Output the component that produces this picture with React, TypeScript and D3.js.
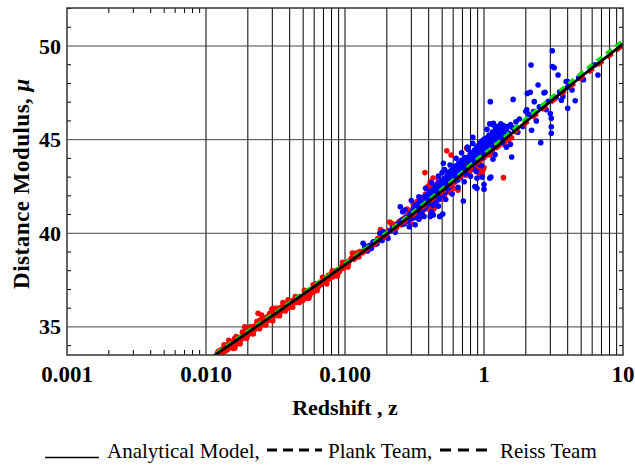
import React from "react";
import * as d3 from "d3";

// ---------- data ----------
const curveZ = [0.01, 0.012, 0.015, 0.02, 0.025, 0.03, 0.04, 0.05, 0.06, 0.07, 0.08, 0.1, 0.15, 0.2, 0.25, 0.3, 0.4, 0.5, 0.6, 0.7, 0.8, 0.9, 1.0, 1.2, 1.5, 2, 3, 4, 5, 7, 10];
const modelMu = [33.18, 33.57, 34.06, 34.70, 35.19, 35.59, 36.24, 36.74, 37.15, 37.50, 37.81, 38.31, 39.27, 39.96, 40.51, 40.96, 41.69, 42.26, 42.74, 43.17, 43.54, 43.83, 44.10, 44.55, 45.18, 45.95, 47.03, 47.78, 48.36, 49.21, 50.11];
const planckMu = [33.26, 33.65, 34.14, 34.78, 35.27, 35.67, 36.32, 36.82, 37.23, 37.58, 37.89, 38.40, 39.36, 40.06, 40.61, 41.07, 41.81, 42.39, 42.87, 43.31, 43.68, 44.00, 44.26, 44.73, 45.35, 46.13, 47.22, 47.97, 48.56, 49.41, 50.31];
const riessMu = [33.09, 33.48, 33.97, 34.61, 35.10, 35.50, 36.15, 36.65, 37.06, 37.41, 37.72, 38.22, 39.18, 39.87, 40.41, 40.86, 41.59, 42.16, 42.63, 43.06, 43.42, 43.71, 43.98, 44.43, 45.06, 45.83, 46.91, 47.66, 48.24, 49.09, 49.99];

const redPoints: [number, number][] = [
  [0.0121, 33.62], [0.0125, 33.55], [0.0128, 33.78], [0.0131, 33.6], [0.0134, 33.85], [0.0138, 33.72], [0.014, 34.02], [0.0143, 33.8],
  [0.0145, 34.03], [0.0148, 33.91], [0.015, 34.18], [0.0153, 33.95], [0.0155, 34.12], [0.0158, 34.25], [0.0161, 34.39], [0.0161, 33.86],
  [0.0164, 34.05], [0.0166, 34.21], [0.017, 34.33], [0.0172, 34.18], [0.0175, 34.45], [0.0178, 34.3], [0.0182, 34.5], [0.0185, 34.62],
  [0.0188, 34.42], [0.019, 35.01], [0.0192, 34.93], [0.0195, 34.7], [0.02, 34.55], [0.0203, 34.8], [0.0207, 34.68], [0.021, 34.92],
  [0.0215, 34.78], [0.022, 35.02], [0.0224, 34.85], [0.023, 35.1], [0.0234, 34.98], [0.0237, 35.73], [0.024, 35.22], [0.0245, 35.37],
  [0.0251, 35.64], [0.0255, 35.12], [0.0258, 35.19], [0.0262, 35.45], [0.0268, 35.3], [0.0273, 35.37], [0.0278, 35.55], [0.0285, 35.42],
  [0.029, 35.68], [0.0297, 35.94], [0.03, 35.5], [0.0304, 36.0], [0.031, 35.72], [0.0318, 35.6], [0.0325, 35.85], [0.0333, 35.78],
  [0.034, 36.02], [0.035, 35.9], [0.036, 36.17], [0.0368, 36.05], [0.0375, 35.98], [0.0385, 36.25], [0.0395, 36.12], [0.0405, 36.35],
  [0.0415, 36.2], [0.0425, 36.42], [0.044, 36.3], [0.0455, 36.55], [0.0474, 36.62], [0.0485, 36.4], [0.05, 36.44], [0.0515, 36.8],
  [0.053, 36.71], [0.054, 36.53], [0.056, 36.71], [0.058, 36.95], [0.06, 37.02], [0.062, 37.3], [0.064, 37.12], [0.066, 37.38],
  [0.068, 37.35], [0.07, 37.62], [0.0715, 37.42], [0.0735, 37.55], [0.076, 37.75], [0.078, 37.6], [0.08, 37.86], [0.082, 37.68],
  [0.0845, 37.95], [0.087, 38.02], [0.09, 37.9], [0.093, 38.18], [0.095, 38.22], [0.097, 38.13], [0.1, 38.35], [0.103, 38.45],
  [0.106, 38.38], [0.111, 38.66], [0.114, 38.84], [0.118, 38.7], [0.123, 38.82], [0.128, 39.02], [0.133, 38.95], [0.14, 39.1],
  [0.145, 39.22], [0.15, 39.15], [0.158, 39.48], [0.165, 39.4], [0.172, 39.72], [0.18, 40.2], [0.183, 40.08], [0.186, 39.75],
  [0.195, 39.82], [0.205, 40.15], [0.21, 40.6], [0.215, 40.53], [0.22, 40.35], [0.225, 40.48], [0.235, 40.3], [0.245, 40.62],
  [0.255, 40.45], [0.265, 40.8], [0.27, 40.55], [0.28, 40.95], [0.285, 40.72], [0.29, 41.05], [0.3, 40.88], [0.305, 41.2],
  [0.31, 40.95], [0.32, 41.3], [0.325, 41.05], [0.33, 41.45], [0.34, 41.15], [0.345, 41.6], [0.35, 41.38], [0.36, 41.7],
  [0.365, 41.25], [0.37, 41.85], [0.376, 43.24], [0.38, 41.55], [0.385, 42.05], [0.39, 41.7], [0.4, 42.53], [0.405, 41.9],
  [0.41, 42.2], [0.42, 41.4], [0.43, 41.24], [0.425, 42.0], [0.435, 42.35], [0.44, 41.85], [0.45, 42.1], [0.455, 42.6],
  [0.46, 42.25], [0.47, 41.95], [0.475, 42.75], [0.48, 42.4], [0.49, 42.15], [0.5, 42.55], [0.51, 42.85], [0.52, 42.3],
  [0.53, 42.65], [0.54, 44.41], [0.545, 42.95], [0.55, 42.5], [0.56, 42.8], [0.58, 44.18], [0.57, 43.1], [0.59, 42.65],
  [0.6, 42.95], [0.61, 43.25], [0.62, 42.75], [0.63, 43.05], [0.65, 42.3], [0.655, 43.35], [0.67, 43.0], [0.69, 43.45],
  [0.7, 43.2], [0.72, 43.6], [0.74, 43.1], [0.75, 44.54], [0.76, 43.5], [0.78, 43.8], [0.8, 43.35], [0.82, 43.7],
  [0.84, 44.0], [0.86, 43.55], [0.88, 43.95], [0.9, 44.2], [0.93, 43.85], [0.96, 44.3], [1.0, 44.05], [1.05, 44.45],
  [1.1, 44.2], [1.38, 42.97], [0.9, 43.45], [0.95, 43.25], [0.98, 43.35], [0.93, 43.15], [1.4, 44.75], [1.5, 44.95],
  [1.45, 45.0], [1.58, 45.1],
  [0.0123, 33.7], [0.0127, 33.62], [0.0133, 33.75], [0.0136, 33.92], [0.0142, 33.88], [0.0147, 34.1], [0.0152, 34.02], [0.0157, 34.08],
  [0.016, 34.2], [0.0168, 34.35], [0.0174, 34.28], [0.018, 34.4], [0.0187, 34.55], [0.0198, 34.62], [0.0205, 34.72], [0.0212, 34.82],
  [0.0218, 34.9], [0.0227, 34.95], [0.0238, 35.05], [0.0248, 35.25], [0.0265, 35.28], [0.0275, 35.45], [0.0282, 35.35], [0.0293, 35.58],
  [0.0315, 35.8], [0.033, 35.65], [0.0345, 35.82], [0.0355, 36.08], [0.038, 36.1], [0.039, 36.0], [0.041, 36.25], [0.043, 36.32],
  [0.045, 36.45], [0.0465, 36.5], [0.049, 36.6], [0.052, 36.62], [0.055, 36.82], [0.057, 36.88], [0.059, 36.85], [0.063, 37.2],
  [0.067, 37.25], [0.072, 37.5], [0.075, 37.5], [0.079, 37.72], [0.083, 37.88], [0.086, 37.82], [0.089, 38.05], [0.092, 38.0],
  [0.098, 38.28], [0.108, 38.55], [0.116, 38.62], [0.12, 38.95], [0.126, 38.75], [0.136, 39.05], [0.142, 39.3], [0.155, 39.32],
  [0.162, 39.55], [0.168, 39.5], [0.176, 39.65], [0.19, 39.95], [0.2, 40.0],
  [0.0135, 34.05], [0.0146, 34.28], [0.0156, 33.85], [0.0165, 34.48], [0.0176, 34.1], [0.0183, 34.72], [0.0196, 34.4], [0.0208, 35.0],
  [0.0219, 34.62], [0.0232, 35.28], [0.0243, 34.9], [0.0256, 35.5], [0.027, 35.1], [0.0287, 35.72], [0.0302, 35.32], [0.032, 36.0],
  [0.0338, 35.6], [0.0358, 36.3], [0.0372, 35.85], [0.039, 36.45], [0.042, 36.05], [0.044, 36.62], [0.047, 36.3], [0.051, 36.95],
  [0.055, 36.55], [0.059, 37.25], [0.063, 36.95], [0.069, 37.65], [0.074, 37.3], [0.081, 38.0], [0.088, 37.72], [0.096, 38.45],
  [0.105, 38.2], [0.113, 38.95],
  [0.26, 40.62], [0.275, 40.7], [0.295, 40.82], [0.315, 41.1], [0.335, 41.3], [0.355, 41.5], [0.375, 41.62], [0.395, 41.85],
  [0.415, 41.95], [0.445, 42.2], [0.465, 42.4], [0.485, 42.3], [0.505, 42.45], [0.525, 42.6], [0.555, 42.7], [0.575, 42.85],
  [0.595, 43.0], [0.615, 42.9], [0.64, 43.15], [0.66, 43.05], [0.68, 43.3], [0.71, 43.3], [0.73, 43.45], [0.77, 43.6],
  [0.79, 43.4], [0.81, 43.8], [0.85, 43.9], [0.87, 43.7], [0.32, 40.85], [0.36, 41.1], [0.41, 41.45], [0.46, 41.75],
  [0.52, 42.0], [0.58, 42.35], [0.33, 41.7], [0.38, 42.1], [0.43, 42.45], [0.49, 42.8], [0.55, 43.2], [0.62, 43.5],
  [0.68, 43.75],
  [0.39, 42.45], [0.41, 42.75], [0.43, 42.95], [0.45, 42.3], [0.47, 42.85], [0.4, 41.3], [0.42, 41.55], [0.44, 41.35],
  [0.62, 43.45], [0.65, 43.35], [0.68, 43.5], [0.7, 43.45], [0.9, 43.3], [0.93, 43.45], [0.97, 43.2], [1.0, 43.5],
  [1.02, 44.4], [1.08, 44.55], [1.15, 44.4], [1.22, 44.6], [0.28, 41.3], [0.31, 41.6], [0.35, 41.9], [0.3, 40.5],
  [0.35, 40.9], [0.5, 41.85], [0.56, 42.2], [0.6, 42.4],
];

const bluePoints: [number, number][] = [
  [0.135, 39.47], [0.139, 39.28], [0.145, 39.05], [0.15, 39.35], [0.155, 39.2], [0.16, 39.55], [0.17, 39.45], [0.178, 40.0],
  [0.185, 39.62], [0.188, 40.09], [0.194, 39.91], [0.2, 39.85], [0.204, 39.73], [0.21, 40.12], [0.22, 40.28], [0.23, 40.05],
  [0.24, 40.52], [0.25, 41.42], [0.255, 40.7], [0.26, 41.15], [0.265, 40.5], [0.27, 41.24], [0.275, 40.85], [0.285, 40.65],
  [0.29, 40.35], [0.295, 41.0], [0.3, 41.1], [0.31, 40.8], [0.32, 41.5], [0.325, 41.2], [0.335, 41.56], [0.335, 40.85],
  [0.34, 40.75], [0.345, 41.35], [0.35, 41.55], [0.355, 41.1], [0.36, 41.45], [0.37, 41.65], [0.375, 41.3], [0.38, 41.8],
  [0.385, 41.5], [0.39, 42.05], [0.395, 41.75], [0.4, 41.6], [0.405, 42.2], [0.41, 40.9], [0.415, 41.9], [0.42, 41.65],
  [0.425, 42.3], [0.432, 40.98], [0.435, 41.85], [0.44, 42.1], [0.445, 42.45], [0.45, 41.95], [0.455, 42.25], [0.46, 42.6],
  [0.465, 42.05], [0.47, 42.35], [0.475, 41.8], [0.48, 40.9], [0.485, 42.55], [0.49, 42.2], [0.495, 42.8], [0.5, 43.24],
  [0.505, 41.03], [0.505, 42.45], [0.51, 43.74], [0.515, 42.7], [0.52, 42.35], [0.525, 42.95], [0.53, 42.55], [0.54, 42.8],
  [0.545, 43.1], [0.55, 42.4], [0.555, 43.25], [0.56, 42.7], [0.57, 43.0], [0.575, 42.55], [0.58, 43.35], [0.59, 42.85],
  [0.6, 43.15], [0.605, 43.55], [0.61, 42.95], [0.62, 43.3], [0.63, 43.6], [0.64, 43.05], [0.65, 43.4], [0.66, 43.75],
  [0.67, 43.2], [0.68, 43.55], [0.69, 43.9], [0.7, 43.35], [0.71, 41.72], [0.715, 43.7], [0.72, 43.15], [0.73, 44.05],
  [0.74, 43.55], [0.75, 43.85], [0.76, 43.4], [0.77, 44.48], [0.78, 43.7], [0.79, 44.15], [0.8, 43.6], [0.81, 43.95],
  [0.82, 44.3], [0.83, 45.13], [0.835, 43.75], [0.845, 44.1], [0.855, 44.45], [0.86, 42.49], [0.865, 43.9], [0.875, 44.25],
  [0.885, 44.6], [0.89, 42.94], [0.89, 42.4], [0.895, 44.0], [0.905, 44.35], [0.915, 44.7], [0.925, 44.15], [0.935, 44.5],
  [0.945, 44.85], [0.955, 44.25], [0.965, 44.6], [0.97, 43.0], [0.975, 44.95], [0.985, 44.4], [0.995, 44.75], [1.0, 42.6],
  [1.0, 42.35], [1.01, 45.05], [1.02, 44.55], [1.04, 44.9], [1.06, 45.13], [1.07, 44.65], [1.09, 45.25], [1.1, 45.84],
  [1.1, 42.94], [1.11, 47.03], [1.12, 43.0], [1.13, 44.8], [1.15, 45.4], [1.17, 45.87], [1.17, 45.78], [1.19, 45.1],
  [1.21, 45.55], [1.23, 44.95], [1.25, 45.5], [1.28, 45.3], [1.3, 45.65], [1.33, 45.2], [1.35, 45.45], [1.38, 45.75],
  [1.4, 45.05], [1.45, 45.6], [1.5, 45.35], [1.55, 45.8], [1.58, 44.07], [1.62, 47.15], [1.65, 45.55], [1.7, 45.95],
  [1.75, 45.4], [1.8, 46.1], [1.9, 45.7], [2.0, 46.5], [2.03, 46.6], [2.05, 47.47], [2.1, 46.35], [2.15, 47.53],
  [2.18, 48.99], [2.2, 45.5], [2.27, 46.5], [2.3, 47.03], [2.38, 46.0], [2.45, 47.92], [2.5, 46.75], [2.56, 44.84],
  [2.7, 47.5], [2.75, 47.53], [2.8, 46.6], [2.9, 47.05], [3.0, 46.4], [3.05, 46.14], [3.05, 45.69], [3.05, 45.34],
  [3.1, 49.75], [3.1, 48.9], [3.2, 48.84], [3.3, 47.25], [3.41, 48.45], [3.5, 47.56], [3.6, 47.1], [3.7, 47.3],
  [3.9, 48.1], [4.0, 48.1], [4.0, 47.8], [4.0, 46.67], [4.1, 48.0], [4.3, 47.65], [4.53, 47.08], [4.8, 48.3],
  [5.2, 48.2], [5.8, 48.7], [6.6, 48.45], [6.3, 49.0], [1.05, 45.55], [1.15, 45.0], [1.22, 45.25], [1.32, 45.85],
  [1.45, 45.15], [1.6, 45.65], [1.12, 44.75], [1.35, 44.85], [1.45, 44.6], [1.55, 44.75], [1.16, 43.95], [1.2, 44.2],
  [0.31, 41.3], [0.33, 41.0], [0.345, 41.7], [0.36, 41.25], [0.37, 41.95], [0.38, 41.4], [0.39, 41.55], [0.4, 42.0],
  [0.41, 41.75], [0.42, 42.15], [0.43, 41.5], [0.44, 42.35], [0.45, 41.7], [0.46, 42.0], [0.47, 42.7], [0.48, 42.1],
  [0.49, 42.5], [0.5, 42.0], [0.51, 42.3], [0.52, 42.9], [0.53, 42.2], [0.54, 42.55], [0.55, 43.0], [0.56, 42.45],
  [0.57, 42.8], [0.58, 42.6], [0.59, 43.2], [0.6, 42.7], [0.61, 43.4], [0.62, 42.9], [0.63, 43.15], [0.64, 43.45],
  [0.65, 42.85], [0.66, 43.2], [0.67, 43.6], [0.68, 43.0], [0.69, 43.35], [0.7, 43.7], [0.72, 43.45], [0.73, 43.3],
  [0.74, 43.9], [0.75, 43.25], [0.76, 43.75], [0.78, 44.0], [0.79, 43.5], [0.8, 44.25], [0.82, 43.8], [0.83, 44.05],
  [0.84, 43.45], [0.86, 44.2], [0.87, 43.85], [0.88, 44.4], [0.9, 44.05], [0.91, 44.55], [0.92, 43.7], [0.94, 44.3],
  [0.95, 44.65], [0.96, 44.0], [0.98, 44.55], [0.99, 44.2], [1.03, 44.7], [1.05, 44.3], [1.08, 44.9], [1.12, 45.2],
  [1.14, 44.6], [1.18, 45.4], [1.24, 45.7], [1.27, 45.0], [1.3, 45.15], [1.36, 45.55], [1.42, 45.3], [1.48, 45.7],
  [0.3, 41.75], [0.34, 41.95], [0.38, 42.4], [0.42, 42.7], [0.47, 43.05], [0.52, 43.4], [0.57, 43.65], [0.63, 44.0],
  [0.69, 44.3], [0.76, 44.6], [0.83, 44.8], [0.32, 40.45], [0.37, 40.9], [0.42, 41.15], [0.47, 41.45], [0.53, 41.8],
  [0.59, 42.1], [0.65, 42.45], [0.72, 42.75], [0.8, 43.05], [0.88, 43.3], [0.96, 43.6],
];

const xTickValues = [0.001, 0.01, 0.1, 1, 10];
const xTickLabels = ["0.001", "0.010", "0.100", "1", "10"];
const yTickValues = [35, 40, 45, 50];

// ---------- layout ----------
const W = 635;
const H = 466;
const L = 67, R = 623, T = 8, B = 355;
const SERIF = '"Liberation Serif", "Times New Roman", Times, serif';

export default function App() {
  const x = d3.scaleLog().domain([0.001, 10]).range([L, R]);
  const y = d3.scaleLinear().domain([33.5, 52.03]).range([B, T]);

  const vGrid: number[] = [];
  for (let e = -2; e <= 0; e++) {
    for (let k = 1; k <= 9; k++) vGrid.push(k * Math.pow(10, e));
  }
  const minorX: number[] = [];
  for (let k = 2; k <= 9; k++) minorX.push(k * 0.001);
  const minorY: number[] = [];
  for (let v = 34; v <= 52; v++) if (v % 5 !== 0) minorY.push(v);

  const mkLine = (mus: number[]) =>
    d3
      .line<number>()
      .x((_, i) => x(curveZ[i]))
      .y((d) => y(d))
      .curve(d3.curveMonotoneX)(mus) || "";

  const ts = { fontFamily: SERIF } as React.CSSProperties;

  return (
    <svg
      width={W}
      height={H}
      style={{ position: "absolute", left: 0, top: 0, background: "#fff", fontFamily: SERIF }}
    >
      <defs>
        <clipPath id="plotClip">
          <rect x={L} y={T} width={R - L} height={B - T} />
        </clipPath>
      </defs>
      <rect x={0} y={0} width={W} height={H} fill="#fff" />

      {vGrid.map((v) => (
        <line key={"vg" + v} x1={x(v)} x2={x(v)} y1={T} y2={B} stroke="#000" strokeWidth={1} />
      ))}
      {yTickValues.map((v) => (
        <line key={"hg" + v} x1={L} x2={R} y1={y(v)} y2={y(v)} stroke="#444" strokeWidth={1} />
      ))}
      {minorX.map((v) => (
        <g key={"mx" + v}>
          <line x1={x(v)} x2={x(v)} y1={T} y2={T + 5} stroke="#000" strokeWidth={1} />
          <line x1={x(v)} x2={x(v)} y1={B} y2={B - 5} stroke="#000" strokeWidth={1} />
        </g>
      ))}
      {minorY.map((v) => (
        <g key={"my" + v}>
          <line x1={L} x2={L + 4} y1={y(v)} y2={y(v)} stroke="#000" strokeWidth={1} />
          <line x1={R} x2={R - 4} y1={y(v)} y2={y(v)} stroke="#000" strokeWidth={1} />
        </g>
      ))}

      <g clipPath="url(#plotClip)">
        {redPoints.map((p, i) => (
          <circle key={"r" + i} cx={x(p[0])} cy={y(p[1])} r={2.8} fill="#ff0000" />
        ))}
        {bluePoints.map((p, i) => (
          <circle key={"b" + i} cx={x(p[0])} cy={y(p[1])} r={2.8} fill="#0000ff" />
        ))}
        <path d={mkLine(planckMu)} fill="none" stroke="#00dd00" strokeWidth={3} strokeDasharray="7,5" />
        <path d={mkLine(riessMu)} fill="none" stroke="#ff0000" strokeWidth={3} strokeDasharray="7,5" />
        <path d={mkLine(modelMu)} fill="none" stroke="#000" strokeWidth={2.8} />
      </g>

      <rect x={L} y={T} width={R - L} height={B - T} fill="none" stroke="#333" strokeWidth={1.5} />

      {xTickValues.map((v, i) => (
        <text key={"xt" + v} x={x(v)} y={382} textAnchor="middle" fontSize={23} fontWeight="bold" style={ts}>
          {xTickLabels[i]}
        </text>
      ))}
      {yTickValues.map((v) => (
        <text key={"yt" + v} x={61} y={y(v) + 7.5} textAnchor="end" fontSize={22} fontWeight="bold" style={ts}>
          {v}
        </text>
      ))}

      <text x={(L + R) / 2} y={415} textAnchor="middle" fontSize={22} fontWeight="bold" style={ts}>
        Redshift , z
      </text>
      <text
        transform={`translate(29, ${(T + B) / 2 + 2}) rotate(-90)`}
        textAnchor="middle"
        fontSize={23}
        fontWeight="bold"
        style={{ ...ts, letterSpacing: "0.5px" }}
      >
        Distance Modulus, <tspan fontStyle="italic">μ</tspan>
      </text>

      <line x1={45} x2={99} y1={457.5} y2={457.5} stroke="#000" strokeWidth={1.5} />
      <text x={107} y={458} fontSize={21} style={ts}>Analytical Model,</text>
      <line x1={267} x2={322} y1={450} y2={450} stroke="#000" strokeWidth={3} strokeDasharray="10,6" />
      <text x={328} y={458} fontSize={21} style={ts}>Plank Team,</text>
      <line x1={440} x2={493} y1={450} y2={450} stroke="#000" strokeWidth={3} strokeDasharray="11,7" />
      <text x={500} y={458} fontSize={21} style={ts}>Reiss Team</text>
    </svg>
  );
}
